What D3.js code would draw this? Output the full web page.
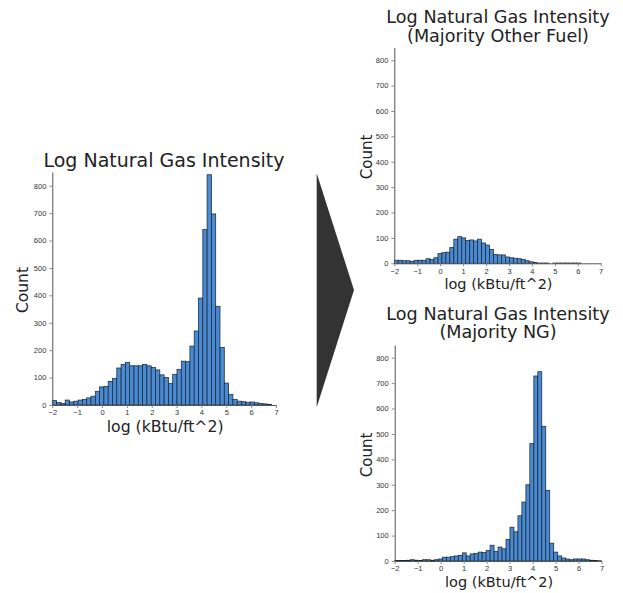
<!DOCTYPE html>
<html>
<head>
<meta charset="utf-8">
<script src="https://cdn.jsdelivr.net/npm/d3@7"></script>
<style>
  body { margin: 0; background: #fff; }
  svg { display: block; font-family: "DejaVu Sans", sans-serif; }
</style>
</head>
<body>
<svg id="drawing_region"></svg>
<script>
// histogram bins (log kBtu/ft^2), shared by all three panels
const binStart = -2;
const binWidth = 0.173;

// all buildings
const allCounts = [16, 9, 6, 18, 11, 14, 18, 20, 26, 32,
    50, 66, 68, 86, 97, 135, 148, 155, 143, 143,
    143, 148, 143, 137, 128, 110, 100, 78, 112, 130,
    160, 158, 215, 270, 390, 640, 840, 697, 360, 210,
    80, 38, 20, 14, 12, 10, 11, 8, 5, 4, 2];

// majority other fuel
const otherFuelCounts = [12, 12, 10, 10, 8, 12, 12, 12, 18, 15,
    22, 38, 42, 44, 62, 95, 105, 100, 90, 92,
    88, 95, 80, 72, 55, 35, 33, 33, 25, 22,
    20, 18, 15, 10, 6, 3, 1, 1, 1, 0,
    1, 1, 1, 1, 1, 1, 1, 0, 0, 0];

// majority natural gas
const majorityNgCounts = [2, 2, 2, 3, 5, 3, 2, 5, 5, 3,
    5, 8, 15, 15, 17, 20, 22, 32, 20, 28,
    30, 35, 33, 42, 62, 38, 55, 48, 85, 133,
    115, 178, 232, 300, 462, 728, 745, 530, 278, 70,
    35, 20, 12, 8, 5, 8, 8, 8, 5, 3, 2, 1];

const xTicks = [-2, -1, 0, 1, 2, 3, 4, 5, 6, 7];
const yTicks = [0, 100, 200, 300, 400, 500, 600, 700, 800];
const xLabel = 'log (kBtu/ft^2)';
const yLabel = 'Count';

const svg = d3.select('#drawing_region')
    .attr('width', 623)
    .attr('height', 593);

// big arrow between the panels
svg.append('path')
    .attr('d', 'M316.7,173.3 L354,290 L316.7,407.3 Z')
    .attr('fill', '#333');

class Histogram {
    constructor( config, counts ) {
        this.config = config;
        this.counts = counts;
        this.render();
    }
    render() {
        let self = this;
        let c = self.config;

        let xscale = d3.scaleLinear()
            .domain([-2, 7])
            .range([c.left, c.right]);
        let yscale = d3.scaleLinear()
            .domain([0, 850])
            .range([c.bottom, c.top]);

        let g = svg.append('g');

        let bins = self.counts.map( (n, i) => ({
            x0: binStart + i * binWidth,
            x1: Math.min(binStart + (i + 1) * binWidth, 7),
            n: n
        })).filter( d => d.n > 0 );

        g.selectAll('rect')
            .data(bins)
            .join('rect')
            .attr('x', d => xscale(d.x0))
            .attr('width', d => xscale(d.x1) - xscale(d.x0))
            .attr('y', d => yscale(d.n))
            .attr('height', d => yscale(0) - yscale(d.n))
            .attr('fill', '#4a8ad3')
            .attr('stroke', '#1a2838')
            .attr('stroke-width', 0.75);

        let xaxis = d3.axisBottom(xscale)
            .tickValues(xTicks)
            .tickSize(3)
            .tickSizeOuter(0)
            .tickPadding(2);
        let yaxis = d3.axisLeft(yscale)
            .tickValues(yTicks)
            .tickSize(3)
            .tickSizeOuter(0)
            .tickPadding(3);

        let xg = g.append('g')
            .attr('transform', `translate(0, ${c.bottom})`)
            .call(xaxis);
        let yg = g.append('g')
            .attr('transform', `translate(${c.left}, 0)`)
            .call(yaxis);

        [xg, yg].forEach( a => {
            a.select('.domain').attr('stroke', '#555').attr('stroke-width', 1);
            a.selectAll('.tick line').attr('stroke', '#888');
            a.selectAll('.tick text')
                .attr('fill', '#333')
                .style('font-family', '"Liberation Sans", sans-serif')
                .style('font-size', '7.5px');
        });

        // title lines
        c.title.forEach( (t, i) => {
            g.append('text')
                .attr('x', c.titleX)
                .attr('y', c.titleY + i * c.titleGap)
                .attr('text-anchor', 'middle')
                .attr('fill', '#222')
                .style('font-size', c.titleSize + 'px')
                .text(t);
        });

        g.append('text')
            .attr('x', (c.left + c.right) / 2 + 1)
            .attr('y', c.xlabelY)
            .attr('text-anchor', 'middle')
            .attr('fill', '#222')
            .style('font-size', c.xlabelSize + 'px')
            .text(xLabel);

        g.append('text')
            .attr('transform', `translate(${c.ylabelX}, ${c.ylabelY}) rotate(-90)`)
            .attr('text-anchor', 'middle')
            .attr('fill', '#222')
            .style('font-size', c.ylabelSize + 'px')
            .text(yLabel);
    }
}

new Histogram({
    left: 52.3, right: 276, top: 172, bottom: 405,
    title: ['Log Natural Gas Intensity'], titleX: 164, titleY: 167, titleGap: 0, titleSize: 19,
    xlabelY: 431.5, xlabelSize: 15.7,
    ylabelX: 28, ylabelY: 290, ylabelSize: 15.5
}, allCounts);

new Histogram({
    left: 394.3, right: 600.7, top: 47.5, bottom: 263.3,
    title: ['Log Natural Gas Intensity', '(Majority Other Fuel)'], titleX: 498, titleY: 23.3, titleGap: 18.4, titleSize: 17.6,
    xlabelY: 289.3, xlabelSize: 14.5,
    ylabelX: 371.5, ylabelY: 157, ylabelSize: 15
}, otherFuelCounts);

new Histogram({
    left: 394.7, right: 601.5, top: 345, bottom: 561,
    title: ['Log Natural Gas Intensity', '(Majority NG)'], titleX: 498, titleY: 320, titleGap: 18.4, titleSize: 17.6,
    xlabelY: 586.7, xlabelSize: 14.5,
    ylabelX: 371.5, ylabelY: 455, ylabelSize: 15
}, majorityNgCounts);
</script>
</body>
</html>
